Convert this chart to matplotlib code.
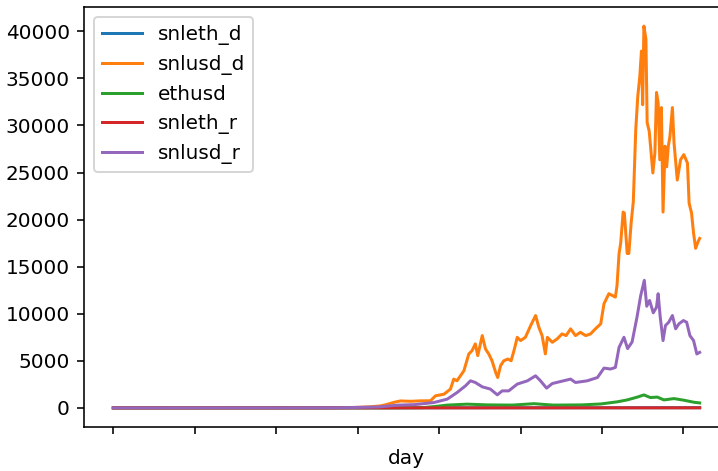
import matplotlib
matplotlib.use('Agg')
import matplotlib.pyplot as plt

# --- values (day index -> value) ---
snlusd_d_day = [0, 100, 200, 300, 400, 500, 560, 600, 630, 656, 670, 690, 705, 730, 754, 779,
                791, 812, 828, 836, 844, 861, 873, 881, 889, 895, 906, 914, 922, 930, 939, 944,
                951, 959, 969, 977, 985, 992, 1000, 1012, 1025, 1037, 1045, 1053, 1061, 1066,
                1078, 1090, 1102, 1112, 1123, 1135, 1147, 1160, 1172, 1184, 1197, 1205, 1217,
                1225, 1233, 1237, 1242, 1246, 1252, 1255, 1262, 1266, 1272, 1277, 1283, 1288,
                1293, 1297, 1300, 1303, 1308, 1311, 1316, 1319, 1325, 1330, 1334, 1338, 1342,
                1346, 1350, 1355, 1359, 1363, 1367, 1373, 1377, 1385, 1393, 1401, 1410, 1414,
                1420, 1425, 1430, 1436, 1440]
snlusd_d = [2, 3, 5, 6, 8, 15, 30, 60, 120, 213, 350, 600, 740, 700, 750, 760,
            1280, 1460, 2000, 3060, 2880, 3950, 5730, 6080, 6800, 5550, 7680, 6260, 5730, 5010,
            3770, 3230, 4480, 5010, 5190, 5010, 6260, 7500, 7150, 7500, 8750, 9810, 8570, 7680,
            5730, 7500, 6970, 7330, 7860, 7680, 8400, 7680, 8030, 7680, 7860, 8400, 8930, 11060,
            12130, 11950, 11770, 13010, 16400, 17500, 20800, 20700, 16400, 16400, 19800, 21900,
            29550, 33100, 35250, 37900, 32200, 40550, 39150, 30300, 29400, 27950, 24950, 27100,
            33500, 32400, 26350, 31900, 20800, 27800, 25600, 27800, 28850, 31900, 28150, 24200,
            26350, 26900, 26000, 21750, 20700, 18550, 16950, 17650, 18000]

snlusd_r_day = [0, 200, 400, 550, 650, 700, 740, 787, 820, 844, 865, 877, 889, 906, 926, 943,
                955, 971, 992, 1017, 1037, 1049, 1064, 1078, 1098, 1123, 1135, 1164, 1189, 1205,
                1221, 1233, 1242, 1254, 1263, 1274, 1286, 1295, 1304, 1310, 1317, 1326, 1334,
                1338, 1343, 1350, 1356, 1364, 1373, 1381, 1389, 1400, 1408, 1416, 1425, 1433,
                1440]
snlusd_r = [1, 2, 3, 10, 100, 300, 350, 570, 930, 1630, 2350, 2880, 2700, 2240, 2000, 1390,
            1810, 1810, 2530, 2880, 3410, 2880, 2100, 2590, 2800, 3060, 2700, 2880, 3230, 4230,
            4130, 4300, 6430, 7500, 6300, 7000, 9630, 11900, 13550, 10800, 11410, 10100, 10700,
            12130, 9700, 7150, 8750, 9100, 9810, 8400, 8930, 9280, 9100, 7680, 7150, 5730,
            5900]

ethusd_day = [0, 300, 600, 700, 760, 790, 820, 869, 920, 980, 1033, 1080, 1150, 1197, 1238,
              1262, 1287, 1303, 1319, 1336, 1352, 1377, 1401, 1426, 1440]
ethusd = [1, 2, 5, 10, 30, 150, 300, 400, 320, 300, 450, 300, 320, 420, 650,
          850, 1150, 1380, 1100, 1150, 850, 990, 820, 600, 530]

snleth_d_day = [0, 400, 800, 1200, 1440]
snleth_d = [5, 8, 15, 20, 25]

snleth_r_day = [0, 400, 800, 1200, 1440]
snleth_r = [2, 3, 5, 8, 10]

fig = plt.figure(figsize=(718 / 144, 471 / 144), dpi=144)
ax = fig.add_axes([84 / 718, 1 - 427 / 471, 645 / 718, 420 / 471])

ax.plot(snleth_d_day, snleth_d, label='snleth_d')
ax.plot(snlusd_d_day, snlusd_d, label='snlusd_d')
ax.plot(ethusd_day, ethusd, label='ethusd')
ax.plot(snleth_r_day, snleth_r, label='snleth_r')
ax.plot(snlusd_r_day, snlusd_r, label='snlusd_r')

ax.set_xticks(range(0, 1441, 200))
ax.set_xticklabels([])
ax.set_xlabel('day')
ax.legend(loc='upper left')

fig.savefig('out.png', dpi=144)
